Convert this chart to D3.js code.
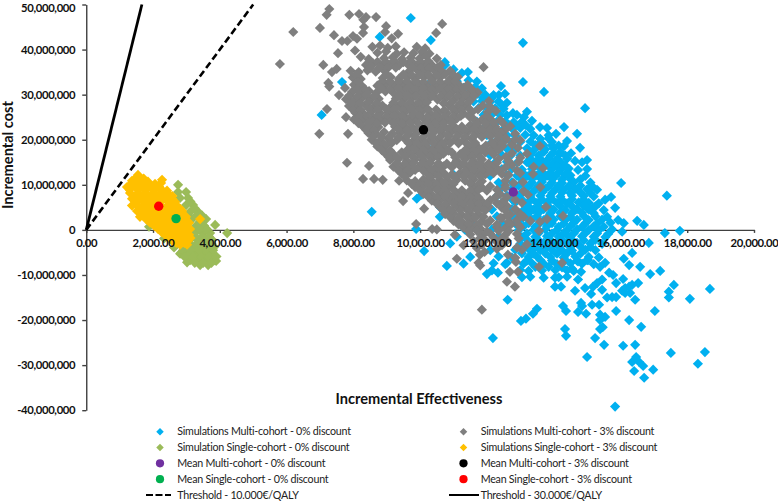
<!DOCTYPE html>
<html><head><meta charset="utf-8">
<script src="https://cdn.jsdelivr.net/npm/d3@7/dist/d3.min.js"></script>
<style>html,body{margin:0;padding:0;background:#fff}svg{display:block}text{font-family:Lato,"Open Sans",sans-serif}</style>
</head><body><svg id="c" width="778" height="501"></svg>
<script>
// x values in thousands of effectiveness units, y values in millions of cost
const xTicks=[0,2,4,6,8,10,12,14,16,18,20];
const xTickLabels=["0.00","2,000.00","4,000.00","6,000.00","8,000.00","10,000.00","12,000.00","14,000.00","16,000.00","18,000.00","20,000.00"];
const yTicks=[50,40,30,20,10,0,-10,-20,-30,-40];
const yTickLabels=["50,000,000","40,000,000","30,000,000","20,000,000","10,000,000","0","-10,000,000","-20,000,000","-30,000,000","-40,000,000"];

const legendNames=["Simulations Multi-cohort - 0% discount","Simulation Single-cohort - 0% discount","Mean Multi-cohort - 0% discount","Mean Single-cohort - 0% discount","Threshold - 10.000€/QALY",
"Simulations Multi-cohort - 3% discount","Simulations Single-cohort - 3% discount","Mean Multi-cohort - 3% discount","Mean Single-cohort - 3% discount","Threshold - 30.000€/QALY"];

const meanMulti0=[[12.79,8.4]];
const meanSingle0=[[2.69,2.5]];
const meanMulti3=[[10.1,22.2]];
const meanSingle3=[[2.17,5.25]];
const threshold10=[[0,0],[5,50]];
const threshold30=[[0,0],[1.667,50]];

const simSingle0=[[2.75,10],[2.99,8.4],[2.75,8.4],[2.81,7.1],[3.05,7.1],[2.99,5.5],[3.2,5.5],[3.11,4],[3.35,4],[3.17,2.4],[3.41,2.4],[3.59,2.4],[3.29,.9],[3.53,.9],[3.86,1.1],[3.26,-.7],[3.5,-.7],[3.71,-.7],[4.22,-.7],[3.11,-2.2],[3.35,-2.2],[3.59,-2.2],[3.77,-2.2],[2.96,-3.8],[3.2,-3.8],[3.44,-3.8],[3.68,-3.8],[3.83,-3.8],[2.81,-5.3],[3.05,-5.3],[3.29,-5.3],[3.53,-5.3],[3.77,-5.3],[3.11,-6.7],[3.35,-6.7],[3.59,-6.7],[3.83,-6.7],[3.41,-7.8],[3.65,-7.8],[3.89,-6.9],[1.88,.7],[2.33,-1.9],[2.63,-3.9],[2.84,-5.1],[3.02,-7.2],
[3.12,6.3],[3.25,4.8],[3.3,3.2],[3.47,3.2],[3.4,1.7],[3.4,.1],[3.62,.1],[3.25,-1.5],[3.47,-1.5],[3.68,-1.5],[3.08,-3],[3.32,-3],[3.56,-3],[3.75,-3],[2.9,-4.5],[3.12,-4.5],[3.38,-4.5],[3.6,-4.5],[3.8,-4.5],[2.95,-6],[3.2,-6],[3.45,-6],[3.68,-6],[3.9,-5.9],[3.25,-7.3],[3.5,-7.3],[3.75,-7.3]];

const simSingle3=[[1.55,12.2],[1.37,10.9],[1.61,10.9],[1.85,10.7],[2.27,11.1],[1.22,9.5],[1.46,9.7],[1.7,9.5],[1.94,9.5],[2.18,9.6],[1.31,8.2],[1.55,8],[1.79,8.2],[2.03,8.3],[2.27,8.2],[2.45,8],[1.37,6.9],[1.61,7],[1.85,6.8],[2.09,6.9],[2.33,7],[2.57,6.9],[1.37,5.4],[1.52,5.5],[1.76,5.6],[2,5.5],[2.24,5.4],[2.48,5.5],[2.69,5.5],[1.52,4.2],[1.76,4.1],[2,4.3],[2.24,4.2],[2.48,4.1],[2.72,4.2],[2.87,4.2],[1.61,2.9],[1.85,3],[2.09,2.9],[2.33,2.8],[2.57,2.9],[2.81,3],[2.99,2.9],[1.91,1.6],[2.15,1.7],[2.39,1.6],[2.63,1.5],[2.87,1.6],[3.08,1.6],[2.15,.2],[2.39,.3],[2.63,.2],[2.87,.1],[3.11,.2],[2.36,-1.1],[2.6,-1],[2.84,-1.1],[3.08,-1.1],[2.57,-2.4],[2.81,-2.3],[3.05,-2.4],[2.81,-3.3],[3.02,-3.3],[3.41,2.4],
[1.48,11.5],[1.72,11.4],[1.34,10.2],[1.58,10.3],[1.82,10.1],[2.06,10.2],[2.24,10.4],[1.3,8.9],[1.56,8.8],[1.8,8.9],[2.04,8.9],[2.28,8.8],[2.42,8.7],[1.44,7.5],[1.68,7.6],[1.92,7.5],[2.16,7.6],[2.4,7.4],[2.58,7.5],[1.48,6.2],[1.72,6.3],[1.96,6.1],[2.2,6.2],[2.44,6.3],[2.66,6.2],[1.62,4.9],[1.88,4.8],[2.12,4.9],[2.36,4.8],[2.6,4.9],[2.8,4.8],[1.68,3.5],[1.92,3.6],[2.16,3.5],[2.4,3.6],[2.64,3.5],[2.88,3.6],[1.8,2.3],[2.02,2.2],[2.26,2.3],[2.5,2.2],[2.74,2.3],[2.98,2.2],[2.04,.9],[2.28,1],[2.52,.9],[2.76,1],[3,.9],[2.26,-.5],[2.5,-.4],[2.74,-.5],[2.98,-.5],[2.48,-1.7],[2.72,-1.7],[2.96,-1.7],[3.12,-1.8],[2.7,-2.9],[2.94,-2.9]];

const simMulti0=[[9.72,47],[10.32,42.1],[7.66,32.8],[7.05,25.5],[8.79,42.8],[10.74,37.2],[10.62,35.9],[10.26,32.4],[10.6,32.5],[8.55,4],[9.9,6.9],[10.05,7.8],[10.59,5.1],[10.59,2.9],[9.88,.2],[11.01,12.2],[10.23,18.2],
[13.08,41.5],[13.08,32.8],[13.71,30.6],[14.94,27],[12.42,31.9],[12.36,29.9],[12.54,30.2],[12.6,28.2],[12.45,27.7],[11.88,29.3],[12.15,29.3],[13.2,26.2],[12.78,25.9],[13.11,25],[14.31,22.8],[14.7,21.3],[13.8,22.6],[13.59,22.8],[14.07,21.3],[14.4,19.7],[14.31,18.6],[14.79,18.2],[14.52,17],[14.19,16.9],[14.64,15.3],[14.73,13.3],[14.19,14],[14.34,12.2],[15,15.5],
[16.02,10.4],[15.72,7.3],[15.54,6.7],[15.18,4.9],[15.84,4.9],[16.5,2],[15.93,2.2],[16.05,-.4],[15.63,-.9],[17.39,7.6],[16.7,1.1],
[17.78,-.2],[17.33,-.7],[16.85,-2.9],[16.35,-5.1],[17.19,-9.1],[16.89,-9.8],[16.59,-8.2],[16.26,-7.8],[16.1,-6.4],[17.6,-12.2],[17.45,-13.7],[17.45,-15],[18.68,-13.1],[18.08,-15.3],[17.03,-18],[16.44,-15.5],[16.62,-21.5],[16.26,-20],[15.87,-18],[17.51,-27.3],[18.53,-27.1],[18.32,-29.7],[16.98,-31],[16.71,-32.8],[16.41,-31.3],[16.47,-28.2],[16.35,-29.3],[16.56,-29.3],[16.68,-30.2],[16.44,-25.5],[16.08,-25.7],[15.51,-25.5],[15.24,-24],[15,-28.2],[15.84,-39.2],[15.39,-22],[15.47,-21.6],[14.34,-22],[14.37,-23.5],[15.39,-20],[15.54,-19.3],[15.39,-18.8],[14.97,-18.6],[14.73,-18.2],[14.37,-18],[14.28,-16.9],[14.82,-16.2],[14.85,-16.9],[15.15,-16.6],[15.36,-16.6],[15.12,-14.2],[15.45,-13.3],[15.6,-15],[15.75,-14.9],[15.87,-14.9],[16.05,-13.5],[16.14,-12.9],[16.26,-12.6],[16.35,-12.2],[16.29,-14],[16.14,-14],[16.53,-11.8],[16.08,-10.9],[15.87,-11.8],[15.78,-10],[15.66,-9.5],[15.54,-7.3],[15.39,-8.2],[15.45,-11],[15.3,-11.8],[15.18,-12.6],[14.94,-12.9],[14.64,-13.5],[14.73,-11],[14.04,-12.6],[14.22,-12.6],[14.82,-9.3],[14.55,-8.6],[14.04,-10.6],[15.03,-6.7],[14.73,-7],
[12.62,-15.5],[12.18,-24],[13.02,-20.2],[13.17,-19.7],[13.38,-18.6],[13.5,-17.5],[10.8,-8],[10.12,-4.7],[12,-9.8],[12.33,-9.5],[12.6,-7.3],
[10.75,36.6],[11,35.6],[11.25,34.8],[11.43,35],[11.1,33],[11.45,33.2],[11.7,32.9],[11.3,31.5],[11.65,31.7],[11.85,31.4],[11.4,30],[11.7,30.1],[11.95,30],[12.2,29.9],[11.6,28.5],[11.85,28.6],[12.1,28.4],[12.35,28.5],[11.75,27],[12,27.1],[12.25,27],[12.5,26.9],[11.9,25.5],[12.15,25.6],[12.4,25.5],[12.6,25.4],[12.9,25.5],[11.7,24],[12.05,24.1],[12.3,24],[12.55,24.1],[12.8,23.9],[13.05,24],[13.35,24.2],[11.9,22.5],[12.2,22.6],[12.5,22.4],[12.75,22.5],[13,22.6],[13.3,22.4],[12,21],[12.3,21.1],[12.6,21],[12.85,20.9],[13.15,21.1],[13.4,21],[13.85,21],[12.15,19.5],[12.45,19.6],[12.75,19.4],[13,19.5],[13.3,19.6],[13.6,19.4],[13.95,19.5],[11.9,18],[12.3,18.1],[12.6,18],[12.85,17.9],[13.2,18.1],[13.45,18],[13.75,17.9],[14,18.1],[12.1,16.5],[12.45,16.6],[12.7,16.4],[13,16.5],[13.3,16.6],[13.55,16.5],[13.9,16.4],[14.35,16.5],[12.25,15],[12.6,15.1],[12.9,14.9],[13.2,15],[13.45,15.1],[13.7,15],[14,14.9],[14.2,15.1],[14.85,15],[12.45,13.5],[12.75,13.6],[13.05,13.4],[13.35,13.5],[13.6,13.6],[13.95,13.5],[14.2,13.4],[14.45,13.6],[15,13.5],[12.1,12],[12.6,12.1],[12.9,12],[13.2,11.9],[13.5,12.1],[13.8,12],[14.05,11.9],[14.5,12.1],[14.95,12],[12.35,10.5],[12.75,10.6],[13.05,10.4],[13.35,10.5],[13.65,10.6],[13.95,10.5],[14.25,10.4],[14.6,10.6],[15.1,10.5],[12.4,9],[12.75,9.1],[13.15,8.9],[13.45,9],[13.75,9.1],[14.05,9],[14.3,8.9],[14.65,9.1],[15,9],[15.3,8.9],[12.3,7.5],[12.6,7.6],[12.95,7.4],[13.3,7.5],[13.6,7.6],[13.9,7.5],[14.2,7.4],[14.55,7.6],[14.9,7.5],[15.2,7.4],[12.45,6],[12.85,6.1],[13.2,5.9],[13.5,6],[13.8,6.1],[14.1,6],[14.4,5.9],[14.75,6.1],[15.05,6],[15.35,5.9],[12.15,4.5],[12.75,4.6],[13.1,4.4],[13.4,4.5],[13.7,4.6],[14,4.5],[14.35,4.4],[14.7,4.6],[15.05,4.5],[15.5,4.4],[12.3,3],[12.75,3.1],[13.15,2.9],[13.5,3],[13.85,3.1],[14.2,3],[14.5,2.9],[14.9,3.1],[15.25,3],[15.6,2.9],[11.6,1.5],[12.45,1.6],[12.85,1.4],[13.25,1.5],[13.6,1.6],[13.95,1.5],[14.3,1.4],[14.6,1.6],[14.95,1.5],[15.3,1.4],[15.7,1.6],[16.1,1.5],[11.35,0],[12.15,.1],[12.95,-.1],[13.4,0],[13.75,.1],[14.1,0],[14.4,-.1],[14.7,.1],[15.05,0],[15.35,-.1],[15.75,.1],[11.1,-1.5],[12.35,-1.4],[13.05,-1.6],[13.45,-1.5],[13.8,-1.4],[14.15,-1.5],[14.45,-1.6],[14.85,-1.4],[15.2,-1.5],[15.55,-1.6],[10.9,-3],[12.5,-2.9],[13,-3.1],[13.35,-3],[13.7,-2.9],[14.05,-3],[14.4,-3.1],[14.7,-2.9],[15.1,-3],[15.45,-3.1],[12.1,-4.5],[12.85,-4.4],[13.3,-4.6],[13.6,-4.5],[13.95,-4.4],[14.25,-4.5],[14.55,-4.6],[14.95,-4.4],[15.25,-4.5],[11.5,-6],[12.35,-5.9],[12.75,-6.1],[13.25,-6],[13.5,-5.9],[13.9,-6],[14.3,-6.1],[14.65,-5.9],[15.05,-6],[15.35,-6.1],[11.3,-7.5],[12.2,-7.4],[12.55,-7.6],[13.1,-7.5],[13.35,-7.4],[13.7,-7.5],[14.1,-7.6],[14.5,-7.4],[14.85,-7.5],[15.2,-7.6],[12.15,-9],[13,-8.9],[13.25,-9.1],[13.65,-9],[14.05,-8.9],[14.4,-9],[14.6,-9.1],[13.05,-10.5],[13.3,-10.4],[13.7,-10.6],[14.15,-10.5],[14.4,-10.4],
[12.05,23.2],[12.65,23.3],[12.9,23.2],[13.15,23.3],[13.6,20.2],[13.85,20.3],[13.45,18.8],[13.7,18.8],[13.95,18.7],[14.15,18.7],[13.35,17.2],[13.7,17.3],[14,17.2],[14.2,17.3],[13.3,15.8],[13.6,15.7],[13.85,15.8],[14.1,15.7],[14.4,15.8],[13.35,14.2],[13.6,14.3],[13.85,14.2],[14.1,14.3],[14.35,14.2],[13.05,12.8],[13.35,12.7],[13.65,12.8],[13.9,12.7],[14.15,12.8],[14.4,12.7],[13.05,11.2],[13.35,11.3],[13.65,11.2],[13.95,11.3],[14.25,11.2],[14.5,11.3],[14.8,11.2],[12.95,9.8],[13.25,9.7],[13.55,9.8],[13.85,9.7],[14.15,9.8],[14.45,9.7],[14.8,9.8],[15.15,9.7],[13.05,8.3],[13.35,8.2],[13.65,8.3],[13.95,8.2],[14.25,8.3],[14.5,8.2],[14.8,8.3],[15.1,8.2],[12.75,6.8],[13.05,6.7],[13.35,6.8],[13.65,6.7],[13.95,6.8],[14.25,6.7],[14.55,6.8],[14.9,6.7],[13.25,5.2],[13.55,5.3],[13.85,5.2],[14.2,5.3],[14.55,5.2],[14.9,5.3],[15.25,5.2],[12.95,3.8],[13.25,3.7],[13.55,3.8],[13.9,3.7],[14.2,3.8],[14.55,3.7],[14.85,3.8],[15.2,3.7],[13,2.2],[13.35,2.3],[13.7,2.2],[14,2.3],[14.35,2.2],[14.7,2.3],[15.05,2.2],[15.45,2.3],[13.1,.8],[13.45,.7],[13.8,.8],[14.15,.7],[14.5,.8],[14.85,.7],[15.2,.8],[15.5,.7],[13.2,-.8],[13.55,-.7],[13.95,-.8],[14.3,-.7],[14.6,-.8],[14.95,-.7],[15.3,-.8],[13.2,-2.2],[13.55,-2.3],[13.9,-2.2],[14.25,-2.3],[14.55,-2.2],[14.9,-2.3],[15.25,-2.2],[13.15,-3.8],[13.45,-3.7],[13.8,-3.8],[14.15,-3.7],[14.5,-3.8],[14.8,-3.7],[15.1,-3.8],[13.05,-5.2],[13.4,-5.3],[13.75,-5.2],[14.1,-5.3],[14.4,-5.2],[14.8,-5.3],[13.2,-6.8],[13.6,-6.7],[13.95,-6.8],[14.35,-6.7],[14.7,-6.8],[15,-6.7],[13.85,-8.2],[14.25,-8.3],[13.45,-8.2]];

const simMulti3=[[5.8,36.8],[6.2,43.9],[7,44.8],[7.28,49],[7.2,47.7],[7.88,47.7],[8.17,47.9],[8.38,47.2],[8.3,46.6],[8.68,47.2],[8.32,45],[8.98,45.2],[10.66,45.7],[10.48,43.7],[7.42,43.2],[8.29,43.7],[7.99,43],[7.66,41.9],[7.82,41.9],[8.11,42.4],[9.34,43.5],[8.95,43.9],[9.15,42.5],[7.54,39.2],[7.1,36.6],[7.36,35],[7.5,35.7],[7.25,32.6],[7.28,31.8],[7.57,29.9],[7.75,31.5],[7.21,26.8],[6.98,21.3],[7.84,21.3],[7.78,25],[7.81,14.9],[8.47,14.2],[8.29,11.3],[8.62,11.3],[8.88,11.1],[9.49,6.4],[10.12,4.7],[9.88,1.3],[10.36,.2],[10.5,.1],[9.64,8.2],[9.37,10.9],
[11.9,36.1],[12.06,28.6],[12.27,26.4],[12.48,23.7],[12.48,21.1],[12.93,18.2],[13.59,18.6],[12.96,15.1],[13.68,13.7],[13.38,12.4],[12.57,16.2],[12.33,19.5],[13.77,5.1],[14.28,3.1],[13.59,1.8],[13.8,2.4],[13.56,-.2],[13.08,10.6],[13.05,6],[13.23,7.8],[14.25,-7.3],[13.56,-8.2],[12.93,-9.3],[12.63,-5.5],[12.6,-11.5],[12.84,-12.6],[11.85,-17.7],[11.1,-6.4],[11.75,-7.3],[11.8,-7.9],[12.69,-9.3],[12.87,-7.1],[11.93,-4.9],[11.79,-5.5],[11.04,-1.1],[11.3,-3.4],
[12.6,5.3],[12.85,4.6],[12.95,3.8],[12.7,3.4],[12.45,2.6],[12.9,2.2],[12.7,1.5],[12.95,1.1],[13.1,2.9],[12.55,9.9],[12.8,10.4],[12.65,12.2],[12.9,13.2],[12.75,14.4],[13,16],[12.75,18.9],[12.55,22.2],[12.85,20],[13.1,8.6],[12.95,-1.9],[13.2,-3.2],[13.05,-4.4],[12.85,-6.2],
[8.57,40.6],[8.8,40.9],[9.03,40.4],[9.27,40.7],[9.9,40.6],[10.15,40.3],[8.05,39.8],[8.72,39.3],[8.98,39.6],[9.3,39.1],[9.52,39.4],[9.8,39.2],[10.05,39.5],[10.28,39.1],[8.22,38.4],[8.46,37.9],[8.92,38.1],[9.18,38.3],[9.46,37.9],[9.72,38.2],[9.98,38],[10.18,38.6],[10.5,38],[8.38,36.6],[8.6,36.9],[8.85,36.4],[9.1,36.7],[9.37,36.5],[9.62,36.8],[9.87,36.4],[10.12,36.7],[10.36,36.5],[10.62,36.6],[7.92,35.3],[8.16,35],[8.42,35.4],[8.67,35.1],[8.93,35.3],[9.66,35.1],[9.92,35.4],[10.17,35],[10.43,35.3],[10.66,35.1],[10.9,35.3],[7.98,33.8],[8.22,33.5],[8.88,33.7],[9.12,33.9],[9.36,33.5],[9.62,33.8],[9.86,33.6],[10.12,33.9],[10.35,33.5],[10.6,33.8],[10.92,33.6],[11.13,33.9],[8.02,32.2],[8.26,31.9],[8.72,32],[8.97,32.3],[9.22,31.9],[9.47,32.2],[9.72,32],[9.97,32.3],[10.2,31.9],[10.47,32.2],[10.72,32],[10.98,32.2],[11.2,31.9],[11.42,32.2],[7.96,30.6],[8.21,30.4],[8.47,30.8],[8.7,30.5],[8.96,30.7],[9.2,30.4],[9.46,30.7],[9.71,30.5],[9.96,30.8],[10.22,30.4],[10.45,30.7],[10.7,30.5],[10.97,30.7],[11.22,30.4],[11.5,30.7],[11.72,30.5],[7.78,29],[8.03,28.8],[8.26,29.2],[8.52,28.9],[8.76,29.1],[9.27,29.1],[9.5,28.9],[9.76,29.2],[10.02,28.8],[10.26,29.1],[10.52,28.9],[10.77,29.2],[11,28.8],[11.27,29.1],[11.52,28.9],[7.87,27.5],[8.12,27.3],[8.36,27.7],[8.62,27.4],[8.87,27.6],[9.12,27.3],[9.37,27.6],[9.62,27.4],[9.87,27.7],[10.12,27.3],[10.87,27.7],[11.12,27.3],[11.37,27.6],[11.88,27.6],[12.1,27.3],[8.06,26],[8.3,25.8],[8.54,26.2],[8.8,25.9],[9.05,26.1],[9.3,25.8],[9.55,26.1],[9.8,25.9],[10.05,26.2],[10.3,25.8],[10.55,26.1],[10.8,25.9],[11.05,26.2],[11.3,25.8],[11.55,26.1],[12.02,26.1],
[8.02,24.5],[8.27,24.3],[8.6,24.7],[8.85,24.4],[9.1,24.6],[9.35,24.3],[9.6,24.6],[9.85,24.4],[10.1,24.7],[10.35,24.3],[10.6,24.6],[10.85,24.4],[11.1,24.7],[11.6,24.6],[11.85,24.4],[12.1,24.6],[12.4,24.3],[8.28,23],[8.5,23.2],[8.75,22.8],[9.25,22.9],[9.5,23.2],[9.75,22.8],[10,23.1],[10.25,22.9],[10.5,23.2],[10.75,22.8],[11,23.1],[11.25,22.9],[11.5,23.2],[11.75,22.8],[12,23.1],[12.25,22.9],[12.7,23],[8.45,21.5],[8.68,21.3],[8.92,21.7],[9.17,21.4],[9.42,21.6],[9.67,21.3],[9.92,21.6],[10.17,21.4],[10.42,21.7],[10.67,21.3],[10.92,21.6],[11.17,21.4],[11.42,21.7],[11.67,21.3],[11.92,21.6],[12.17,21.4],[12.42,21.6],[12.85,21.3],[8.55,20],[8.8,19.8],[9.05,20.2],[9.3,19.9],[9.55,20.1],[9.8,19.8],[10.05,20.1],[10.3,19.9],[10.55,20.2],[10.8,19.8],[11.05,20.1],[11.3,19.9],[11.55,20.2],[12.3,19.9],[12.6,20.1],[13,19.9],[8.72,18.5],[8.97,18.7],[9.72,18.4],[9.97,18.7],[10.22,18.3],[10.47,18.6],[10.72,18.4],[11.47,18.6],[11.72,18.4],[11.97,18.7],[12.22,18.3],[12.47,18.6],[8.95,17],[9.2,16.8],[9.45,17.2],[9.7,16.9],[9.95,17.1],[10.2,16.8],[10.45,17.1],[10.7,16.9],[10.95,17.2],[11.2,16.8],[11.45,17.1],[11.7,16.9],[11.95,17.2],[12.2,16.8],[12.75,17],[13.2,16.9],[9.1,15.5],[9.35,15.7],[9.6,15.3],[9.85,15.6],[10.1,15.4],[10.35,15.7],[11.1,15.4],[11.35,15.7],[11.6,15.3],[11.85,15.6],[12.35,15.7],[12.65,15.3],[9.2,14],[9.45,13.8],[9.7,14.2],[9.95,13.9],[10.2,14.1],[10.45,13.8],[10.7,14.1],[10.95,13.9],[11.2,14.2],[11.45,13.8],[11.7,14.1],[11.95,13.9],[12.2,14.2],[12.55,13.8],[13.4,14],[9.45,12.5],[9.7,12.7],[10.2,12.6],[10.45,12.4],[10.7,12.7],[10.95,12.3],[11.2,12.6],[11.45,12.4],[11.7,12.7],[11.95,12.3],[12.2,12.6],[12.45,12.4],[13,12.6],[9.6,11],[9.85,10.8],[10.1,11.2],[10.35,10.9],[10.6,11.1],[10.85,10.8],[11.1,11.1],[11.35,10.9],[11.6,11.2],[11.85,10.8],[12.55,10.9],[9.85,9.5],[10.1,9.7],[10.35,9.3],[10.6,9.6],[10.85,9.4],[11.6,9.6],[11.85,9.4],[12.1,9.7],[12.55,9.3],[13.6,9.5],[10.1,8],[10.35,7.8],[10.6,8.2],[10.85,7.9],[11.1,8.1],[11.35,7.8],[11.6,8.1],[12.4,7.9],[12.8,8.1],[10.35,6.5],[10.6,6.7],[10.85,6.3],[11.1,6.6],[11.35,6.4],[11.6,6.7],[11.85,6.3],[12.1,6.6],[12.5,6.4],[12.85,6.7],[10.6,5],[10.85,4.8],[11.1,5.2],[11.35,4.9],[11.6,5.1],[11.85,4.8],[12.05,5.1],[12.45,4.9],[10.75,3.5],[11,3.7],[11.25,3.3],[11.5,3.6],[11.75,3.4],[12.6,3.3],[13,3.5],[11,2],[11.25,1.8],[11.55,2.2],[11.85,1.9],[12.1,2.1],[12.65,1.8],[13.3,2],[11.3,.5],[11.55,.7],[11.8,.3],[12.3,.6],[12.55,.4],[13,.6],[11.5,-1],[11.85,-1.2],[12.1,-.8],[12.55,-1.1],[12.9,-.9],[11.6,-2.5],[11.95,-2.3],[12.3,-2.7],[12.6,-2.4],[11.7,-4],[12.3,-4.2],[12.9,-3.9],
[8.72,37.3],[8.98,37.2],[9.24,37.4],[9.5,37.2],[9.75,37.3],[10,37.2],[10.25,37.4],[8.5,35.9],[8.78,36],[9.02,35.8],[9.27,36],[9.77,36],[10.02,35.9],[10.27,35.8],[10.52,36],[8.08,34.4],[9,34.5],[9.5,34.5],[9.75,34.3],[10,34.5],[10.25,34.4],[10.5,34.3],[10.75,34.5],[11,34.4],[8.14,32.9],[8.85,32.8],[9.1,33],[9.35,32.8],[9.6,33],[9.85,32.9],[10.1,32.8],[10.35,33],[10.6,32.8],[10.85,33],[11.05,32.9],[8.1,31.3],[8.35,31.2],[8.85,31.4],[9.1,31.2],[9.35,31.4],[9.6,31.3],[9.85,31.2],[10.1,31.4],[10.35,31.2],[10.6,31.4],[10.85,31.3],[11.1,31.2],[11.3,31.4],[11.55,31.2],[7.88,29.8],[8.13,29.7],[8.38,29.9],[8.62,29.7],[9.37,29.7],[9.62,29.9],[9.87,29.7],[10.12,29.9],[10.37,29.8],[10.62,29.7],[10.87,29.9],[11.12,29.7],[11.37,29.9],[11.62,29.8],[7.95,28.2],[8.2,28.1],[8.45,28.3],[8.7,28.1],[9.2,28.2],[9.45,28.1],[9.7,28.3],[9.95,28.1],[10.2,28.3],[10.7,28.1],[10.95,28.3],[11.2,28.1],[11.45,28.3],[7.98,26.7],[8.22,26.6],[8.48,26.8],[8.73,26.6],[8.98,26.8],[9.23,26.7],[9.48,26.6],[9.73,26.8],[9.98,26.6],[10.23,26.8],[10.48,26.7],[10.73,26.6],[10.98,26.8],[11.23,26.6],[11.48,26.8],[11.73,26.7],[8.18,25.2],[8.42,25.1],[8.72,25.3],[8.98,25.1],[9.22,25.3],[9.48,25.2],[9.72,25.1],[9.98,25.3],[10.22,25.1],[10.48,25.3],[10.72,25.2],[10.98,25.1],[11.22,25.3],[11.48,25.1],[11.98,25.2],[8.15,23.7],[8.45,23.8],[8.7,23.6],[8.95,23.8],[9.2,23.6],[9.45,23.7],[9.7,23.8],[9.95,23.6],[10.2,23.8],[10.45,23.6],[10.7,23.7],[10.95,23.8],[11.7,23.6],[11.95,23.7],[12.2,23.8],[8.38,22.2],[8.62,22.1],[9.35,22.3],[9.6,22.2],[9.85,22.1],[10.35,22.3],[10.6,22.1],[10.85,22.3],[11.1,22.2],[11.35,22.1],[11.6,22.3],[11.85,22.1],[12.1,22.3],[12.3,22.2],[8.6,20.7],[8.85,20.6],[9.1,20.8],[9.35,20.6],[9.6,20.8],[9.85,20.7],[10.1,20.6],[10.35,20.8],[10.6,20.6],[10.85,20.8],[11.1,20.7],[11.35,20.6],[11.6,20.8],[11.85,20.6],[12.1,20.8],[12.35,20.7],[8.68,19.2],[8.9,19.1],[9.15,19.3],[9.65,19.3],[9.9,19.2],[10.15,19.1],[10.4,19.3],[10.65,19.1],[10.9,19.3],[11.15,19.2],[11.4,19.1],[11.65,19.3],[12.15,19.3],[12.45,19.1],[8.85,17.7],[9.1,17.6],[9.6,17.6],[9.85,17.8],[10.1,17.7],[10.35,17.6],[10.6,17.8],[10.85,17.6],[11.35,17.7],[11.6,17.6],[11.85,17.8],[12.1,17.6],[12.35,17.8],[9.05,16.2],[9.3,16.1],[9.55,16.3],[9.8,16.1],[10.05,16.3],[10.3,16.2],[10.55,16.1],[11.05,16.1],[11.3,16.3],[11.55,16.2],[11.8,16.1],[9.3,14.8],[9.55,14.7],[9.8,14.9],[10.05,14.7],[10.3,14.9],[10.55,14.8],[10.8,14.7],[11.05,14.9],[11.3,14.7],[11.55,14.9],[11.8,14.8],[12.05,14.7],[12.3,14.9],[9.35,13.2],[9.6,13.1],[9.85,13.3],[10.1,13.1],[10.35,13.3],[10.6,13.2],[11.35,13.1],[11.6,13.3],[11.85,13.2],[12.1,13.1],[12.35,13.3],[9.55,11.8],[10.3,11.7],[10.55,11.9],[10.8,11.8],[11.05,11.7],[11.3,11.9],[11.55,11.7],[11.8,11.9],[9.75,10.2],[10,10.1],[10.25,10.3],[10.5,10.1],[10.75,10.3],[11,10.2],[11.5,10.3],[11.75,10.1],[10,8.8],[10.25,8.7],[10.5,8.9],[10.75,8.7],[11,8.9],[11.25,8.8],[11.5,8.7],[11.75,8.9],[12,8.7],[12.3,8.9],[10.25,7.3],[10.5,7.2],[10.75,7.4],[11,7.2],[11.25,7.4],[11.5,7.3],[11.75,7.2],[12.25,7.2],[12.6,7.3],[10.5,5.8],[10.75,5.7],[11,5.9],[11.25,5.7],[11.5,5.9],[11.75,5.8],[12,5.7],[12.3,5.9],[10.7,4.3],[10.95,4.2],[11.2,4.4],[11.45,4.2],[11.7,4.4],[11.95,4.3],[12.55,4.4],[10.9,2.8],[11.15,2.7],[11.4,2.9],[11.65,2.7],[11.9,2.9],[12.4,2.7],[11.15,1.2],[11.45,1.3],[11.7,1.1],[12,1.3],[12.3,1.2],[12.7,1.1],[11.45,-.3],[11.7,-.2],[12,-.4],[12.35,-.2],[12.65,-.3],[11.8,-1.8],[12.2,-1.7],[12.45,-1.9],[11.85,-3.3],[12.45,-3.4]];

const W=778,H=501;
const xScale=d3.scaleLinear().domain([0,20]).range([86.25,754]);
const yScale=d3.scaleLinear().domain([50,-40]).range([4.5,410.2]);
const svg=d3.select("#c");
const diamondBig=d3.symbol(d3.symbolDiamond2,66)();
const diamondSmall=d3.symbol(d3.symbolDiamond2,36)();

const axisColor="#404040";
const labelColor="#111";
function drawAxes(labels){
  const gx=svg.append("g").attr("transform",`translate(0,${yScale(0)})`)
    .call(d3.axisBottom(xScale).tickValues(xTicks).tickSize(labels?0:3).tickSizeOuter(0).tickPadding(9)
      .tickFormat((d,i)=>labels?xTickLabels[i]:""));
  const gy=svg.append("g").attr("transform",`translate(${xScale(0)},0)`)
    .call(d3.axisLeft(yScale).tickValues(yTicks).tickSize(labels?0:4).tickSizeOuter(0).tickPadding(11)
      .tickFormat((d,i)=>labels?yTickLabels[i]:""));
  [gx,gy].forEach(g=>{
    g.selectAll("path,line").attr("stroke",axisColor).attr("stroke-width",1.4);
    if(labels){g.selectAll("path,line").remove();
      g.selectAll("text").attr("font-family","Lato,'Open Sans',sans-serif").attr("font-size",11.3).attr("letter-spacing","-0.35").attr("font-weight",700).attr("fill",labelColor);}
  });
  if(labels) gy.selectAll("text").filter((d,i)=>i===0).attr("dy","0.62em");
}
drawAxes(false);

function diamonds(data,color){
  svg.append("g").selectAll("path").data(data).join("path")
    .attr("d",diamondBig).attr("fill",color)
    .attr("transform",d=>`translate(${xScale(d[0])},${yScale(d[1])})`);
}
function means(data,color){
  svg.append("g").selectAll("circle").data(data).join("circle")
    .attr("cx",d=>xScale(d[0])).attr("cy",d=>yScale(d[1])).attr("r",4.7).attr("fill",color);
}
const blue="#00b0f0",gray="#7f7f7f",green="#9bbb59",orange="#ffc000",purple="#7030a0",emerald="#00b050",red="#ff0000";
diamonds(simMulti0,blue);
diamonds(simSingle0,green);
diamonds(simMulti3,gray);
diamonds(simSingle3,orange);

const line=d3.line().x(d=>xScale(d[0])).y(d=>yScale(d[1]));
svg.append("path").attr("d",line(threshold10)).attr("fill","none").attr("stroke","#000").attr("stroke-width",2.6).attr("stroke-dasharray","7 3.6");
svg.append("path").attr("d",line(threshold30)).attr("fill","none").attr("stroke","#000").attr("stroke-width",2.8);

means(meanMulti0,purple);
means(meanSingle0,emerald);
means(meanMulti3,"#000");
means(meanSingle3,red);

drawAxes(true);

svg.append("text").attr("transform","translate(13,155) rotate(-90)").attr("text-anchor","middle").attr("font-size",14.6).attr("font-weight",700).attr("fill",labelColor).text("Incremental cost");
svg.append("text").attr("x",419).attr("y",404).attr("text-anchor","middle").attr("font-size",14.6).attr("font-weight",700).attr("fill",labelColor).text("Incremental Effectiveness");

// legend
const rowY=d3.scalePoint().domain(d3.range(5)).range([431.7,495]);
const legendKeys=[["d",blue],["d",green],["c",purple],["c",emerald],["dash","#000"],["d",gray],["d",orange],["c","#000"],["c",red],["solid","#000"]];
const lg=svg.append("g");
legendNames.forEach((n,i)=>{
  const col=i<5?0:1,r=i%5,mx=col?463.5:160,tx=col?480.7:177.3,y=rowY(r),k=legendKeys[i];
  if(k[0]==="d")lg.append("path").attr("d",diamondSmall).attr("fill",k[1]).attr("transform",`translate(${mx},${y})`);
  if(k[0]==="c")lg.append("circle").attr("cx",mx).attr("cy",y).attr("r",4.1).attr("fill",k[1]);
  if(k[0]==="dash")lg.append("line").attr("x1",mx-14).attr("x2",mx+11).attr("y1",y).attr("y2",y).attr("stroke",k[1]).attr("stroke-width",2).attr("stroke-dasharray","7 2.5");
  if(k[0]==="solid")lg.append("line").attr("x1",mx-14.5).attr("x2",mx+15.5).attr("y1",y).attr("y2",y).attr("stroke",k[1]).attr("stroke-width",2);
  lg.append("text").attr("x",tx).attr("y",y).attr("dy","0.35em").attr("font-size",10.7).attr("letter-spacing","-0.25").attr("fill","#222").text(n);
});
</script></body></html>
